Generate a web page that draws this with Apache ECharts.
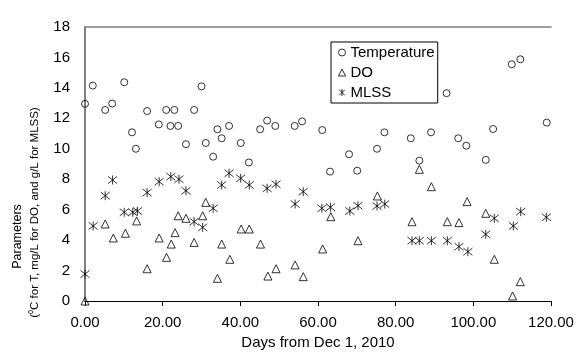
<!DOCTYPE html>
<html><head><meta charset="utf-8">
<script src="https://cdn.jsdelivr.net/npm/echarts@6/dist/echarts.min.js"></script>
<style>html,body{margin:0;padding:0;background:#fff}#c{width:584px;height:364px}</style>
</head><body><div id="c"></div>
<script>
// ---- data ----
const tempDays = [0, 2, 5.2, 7, 10.1, 12.1, 13.1, 16, 19, 20.9, 22, 23, 24, 26, 28.1, 30, 31.1, 33, 34.1, 35.2, 37.1, 40.1, 42.2, 45.1, 46.9, 49, 54, 55.9, 61.1, 63.1, 68, 70.1, 75.2, 77.1, 83.9, 86.1, 89.1, 93.1, 96.1, 98.2, 103.2, 105.1, 109.9, 112.1, 118.9];
const tempVals = [12.95, 14.15, 12.55, 12.97, 14.37, 11.08, 10.0, 12.48, 11.6, 12.55, 11.5, 12.55, 11.5, 10.3, 12.55, 14.1, 10.38, 9.48, 11.28, 10.69, 11.5, 10.38, 9.1, 11.28, 11.85, 11.5, 11.5, 11.8, 11.23, 8.5, 9.64, 8.56, 10.0, 11.08, 10.69, 9.22, 11.08, 13.65, 10.69, 10.2, 9.27, 11.3, 15.55, 15.88, 11.72];

const doDays = [0, 5.2, 7.3, 10.4, 13.3, 16, 19.1, 21, 22.2, 23.2, 24, 26, 28.1, 30.3, 31.1, 34.1, 35.2, 37.3, 40.2, 42.3, 45.2, 47.1, 49.2, 54.1, 56.2, 61.2, 63.3, 70.3, 75.3, 84.2, 86.1, 89.2, 93.3, 96.3, 98.4, 103.2, 105.4, 110.1, 112.1];
const doVals = [0, 5.06, 4.14, 4.45, 5.26, 2.12, 4.14, 2.87, 3.74, 4.49, 5.6, 5.43, 3.85, 5.6, 6.48, 1.49, 3.74, 2.74, 4.73, 4.73, 3.74, 1.64, 2.12, 2.37, 1.6, 3.42, 5.54, 3.96, 6.9, 5.21, 8.65, 7.51, 5.21, 5.15, 6.53, 5.76, 2.74, 0.33, 1.27];

const mlssDays = [0, 2.1, 5.2, 7.1, 10.1, 12.3, 13.5, 16, 19.1, 22.1, 24.2, 26, 28.1, 30.3, 33, 35.2, 37.1, 40.1, 42.3, 46.9, 49.2, 54.1, 56.2, 61, 63.2, 68.2, 70.3, 75.2, 77.2, 84.2, 86.1, 89.2, 93.3, 96.3, 98.6, 103.2, 105.4, 110.3, 112.2, 118.8];
const mlssVals = [1.77, 4.93, 6.92, 7.95, 5.83, 5.83, 5.91, 7.12, 7.84, 8.17, 8.0, 7.24, 5.21, 4.84, 6.09, 7.62, 8.39, 8.06, 7.62, 7.4, 7.67, 6.37, 7.18, 6.09, 6.16, 5.91, 6.26, 6.24, 6.37, 3.96, 3.96, 3.96, 3.96, 3.57, 3.24, 4.38, 5.43, 4.93, 5.87, 5.5];

const seriesNames = ['Temperature', 'DO', 'MLSS'];
const xTitle = 'Days from Dec 1, 2010';
const yTitle1 = 'Parameters';
const yTitle2 = '(\u2070C for T, mg/L for DO, and g/L for MLSS)';

const zip = (a, b) => a.map((d, i) => [d, b[i]]);
const FONT = 'Arial, "Liberation Sans", sans-serif';
const hollow = { color: 'rgba(0,0,0,0)', borderColor: '#000', borderWidth: 1 };
const starPath = 'path://M1,1L9,9M1,9L9,1M5,0L5,10';

const chart = echarts.init(document.getElementById('c'), null, { renderer: 'canvas' });
chart.setOption({
  animation: false,
  backgroundColor: '#fff',
  grid: { left: 85, right: 33, top: 27, bottom: 63, containLabel: false },
  xAxis: [{
    type: 'value', min: 0, max: 120, interval: 20, position: 'bottom',
    name: xTitle, nameLocation: 'middle', nameGap: 34,
    nameTextStyle: { fontFamily: FONT, fontSize: 15, color: '#000' },
    axisLine: { show: true, lineStyle: { color: '#000', width: 1 } },
    axisTick: { show: true, length: 5, inside: false, lineStyle: { color: '#000' } },
    axisLabel: { fontFamily: FONT, fontSize: 15, color: '#000', margin: 14, formatter: v => v.toFixed(2) },
    splitLine: { show: false }
  }, {
    type: 'value', min: 0, max: 120, position: 'top',
    axisLine: { show: true, lineStyle: { color: '#808080', width: 1.5 } },
    axisTick: { show: false }, axisLabel: { show: false }, splitLine: { show: false }
  }],
  yAxis: {
    type: 'value', min: 0, max: 18, interval: 2,
    axisLine: { show: true, onZero: false, lineStyle: { color: '#808080', width: 2 } },
    axisTick: { show: false },
    axisLabel: { fontFamily: FONT, fontSize: 15, color: '#000', margin: 15 },
    splitLine: { show: false }
  },
  legend: {
    orient: 'vertical', left: 331, top: 42,
    backgroundColor: '#fff', borderColor: '#000', borderWidth: 1,
    padding: [3, 3, 3, 7], itemGap: 5, itemWidth: 7, itemHeight: 7,
    textStyle: { fontFamily: FONT, fontSize: 15, color: '#000' },
    data: [
      { name: seriesNames[0], icon: 'circle', itemStyle: hollow },
      { name: seriesNames[1], icon: 'triangle', itemStyle: hollow },
      { name: seriesNames[2], icon: starPath, itemStyle: hollow }
    ]
  },
  graphic: [
    { type: 'text', x: 18, y: 236.5, rotation: Math.PI / 2,
      style: { text: yTitle1, fontFamily: FONT, fontSize: 12.5, fill: '#000', align: 'center', verticalAlign: 'middle', textAlign: 'center', textVerticalAlign: 'middle' } },
    { type: 'text', x: 35, y: 212.5, rotation: Math.PI / 2,
      style: { text: yTitle2, fontFamily: FONT, fontSize: 11.5, fill: '#000', align: 'center', verticalAlign: 'middle', textAlign: 'center', textVerticalAlign: 'middle' } }
  ],
  series: [
    { name: seriesNames[0], type: 'scatter', data: zip(tempDays, tempVals), symbol: 'circle', symbolSize: 7, itemStyle: hollow },
    { name: seriesNames[1], type: 'scatter', data: zip(doDays, doVals), symbol: 'triangle', symbolSize: 8, itemStyle: hollow },
    { name: seriesNames[2], type: 'scatter', data: zip(mlssDays, mlssVals), symbol: starPath, symbolSize: 9, itemStyle: hollow }
  ]
});
</script></body></html>
